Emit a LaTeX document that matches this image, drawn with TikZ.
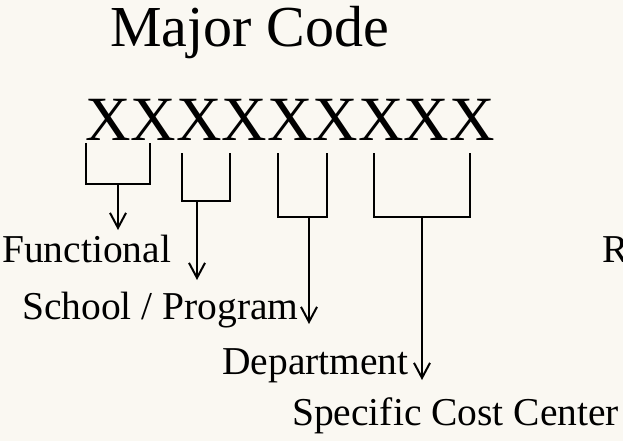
\documentclass[tikz,border=0pt]{standalone}
\usepackage{fontspec}
\setmainfont{Liberation Serif}
\usepackage{tikz}
\usetikzlibrary{arrows.meta, positioning}
\definecolor{paper}{RGB}{250,248,242}
\tikzstyle{fieldname}=[inner sep=0pt, anchor=base west, font=\fontsize{39.5}{39.5}\selectfont]
\tikzstyle{brace}=[line width=2pt]
\tikzstyle{pointer}=[line width=2pt, -{Straight Barb[length=15pt,width=16pt]}]

\begin{document}
\begin{tikzpicture}[x=1pt,y=-1pt]
\useasboundingbox (0,0) rectangle (623,441);
\fill[paper] (0,0) rectangle (623,441);
\clip (0,0) rectangle (623,441);

\node[inner sep=0pt, anchor=base west, font=\fontsize{58}{58}\selectfont] (title) at (110,47) {Major Code};
\node[inner sep=0pt, anchor=base west, font=\fontsize{63}{63}\selectfont] (code) at (85,140) {XXXXXXXXX};

\node[fieldname] (functional) at (2,262) {Functional};
\node[fieldname] (school) at (22,319) {School / Program};
\node[fieldname] (dept) at (222,374) {Department};
\node[fieldname] (cost) at (292,425) {Specific Cost Center};
\node[fieldname] (rsv) at (602,262) {R};

% one bracket per field: left/right/top/bottom, stem x, arrow end y
\foreach \i/\l/\r/\t/\b/\s/\e in {1/86/150/143/184/118/230, 2/182/230/153/201/197/280,
    3/278/327/153/217/309/324, 4/374/470/153/217/422/380} {
  \draw[brace] (\l,\t) |- (\r,\b) -- (\r,\t);
  \coordinate (stem\i) at (\s,\b);
  \coordinate (tip\i) at (\s,\e);
  \draw[pointer] (stem\i) -- (tip\i);
}
\end{tikzpicture}
\end{document}
